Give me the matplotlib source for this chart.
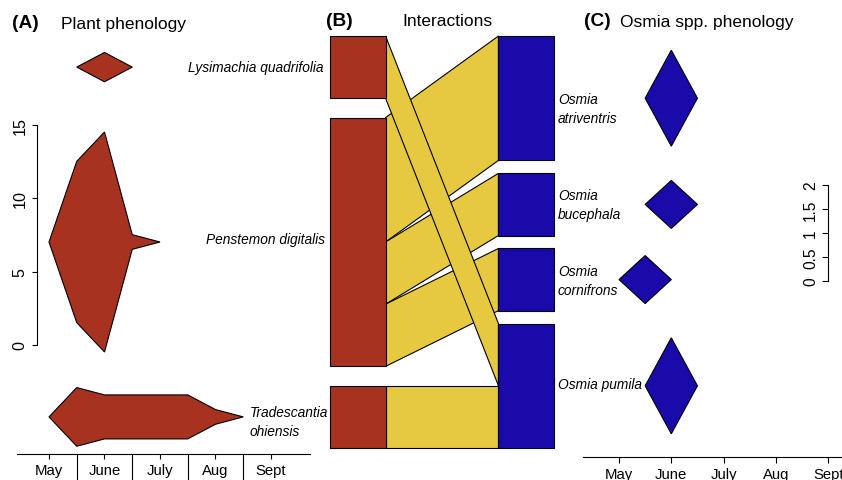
import matplotlib
matplotlib.use('Agg')
import matplotlib.pyplot as plt
from matplotlib import font_manager
from matplotlib.font_manager import FontProperties
from matplotlib.patches import Polygon, Rectangle
from matplotlib.transforms import blended_transform_factory

W, H = 842, 481

# ---- data ----
months = ['May', 'June', 'July', 'Aug', 'Sept']
plants = ['Lysimachia quadrifolia', 'Penstemon digitalis', 'Tradescantia\nohiensis']
bees = ['Osmia\natriventris', 'Osmia\nbucephala', 'Osmia\ncornifrons', 'Osmia pumila']

# interactions: rows = plants, cols = bees
links = [[0, 0, 0, 1],
         [2, 1, 1, 0],
         [0, 0, 0, 1]]

# phenology (1 = May, half month steps)
lys_time = [1.5, 2, 2.5]
lys_abund = [0, 2, 0]
pen_time = [1, 1.5, 2, 2.5, 3]
pen_abund = [0, 11, 15, 1, 0]
tra_time = [1, 1.5, 2, 2.5, 3, 3.5, 4, 4.5]
tra_abund = [0, 4, 3, 3, 3, 3, 1, 0]

atr_time = [1.5, 2, 2.5]
atr_abund = [0, 2, 0]
buc_time = [1.5, 2, 2.5]
buc_abund = [0, 1, 0]
cor_time = [1, 1.5, 2]
cor_abund = [0, 1, 0]
pum_time = [1.5, 2, 2.5]
pum_abund = [0, 2, 0]

plant_phen = [(lys_time, lys_abund), (pen_time, pen_abund), (tra_time, tra_abund)]
bee_phen = [(atr_time, atr_abund), (buc_time, buc_abund), (cor_time, cor_abund), (pum_time, pum_abund)]

RED = '#a83220'
YEL = '#e6c940'
BLUE = '#1a0aaa'


def pick_font(names):
    for n in names:
        try:
            font_manager.findfont(FontProperties(family=n), fallback_to_default=False)
            return n
        except ValueError:
            pass
    return 'DejaVu Sans'


FONT = pick_font(['Liberation Sans Narrow', 'Liberation Sans'])
k = 1.0 if 'Narrow' in FONT else 0.86
plt.rcParams['font.family'] = [FONT, 'DejaVu Sans']

fig = plt.figure(figsize=(W / 100, H / 100), dpi=100)


def px_axes(x0, y0, x1, y1):
    return fig.add_axes([x0 / W, 1 - y1 / H, (x1 - x0) / W, (y1 - y0) / H])


def ftext(x, y, s, **kw):
    fig.text(x / W, 1 - y / H, s, **kw)


# ---- (B) interactions ----
axB = px_axes(330, 37, 554, 449)
axB.axis('off')
box_w = 0.248
gap_total = 0.625
plant_tot = [sum(r) for r in links]
bee_tot = [sum(links[i][j] for i in range(len(plants))) for j in range(len(bees))]
total = sum(plant_tot)
axB.set_xlim(0, 1)
axB.set_ylim(total + gap_total, 0)

plant_top = []
y = 0
for v in plant_tot:
    plant_top.append(y)
    y += v + gap_total / (len(plants) - 1)
bee_top = []
y = 0
for v in bee_tot:
    bee_top.append(y)
    y += v + gap_total / (len(bees) - 1)

lcur = list(plant_top)
rcur = list(bee_top)
for i in range(len(plants)):
    for j in range(len(bees)):
        v = links[i][j]
        if v == 0:
            continue
        lt, rt = lcur[i], rcur[j]
        axB.add_patch(Polygon([(box_w, lt), (1 - box_w, rt), (1 - box_w, rt + v), (box_w, lt + v)],
                              closed=True, fc=YEL, ec='black', lw=0.8, clip_on=False,
                              zorder=1 + 0.1 * (len(plants) - i)))
        lcur[i] += v
        rcur[j] += v

for top, v in zip(plant_top, plant_tot):
    axB.add_patch(Rectangle((0, top), box_w, v, fc=RED, ec='black', lw=0.8, clip_on=False, zorder=3))
for top, v in zip(bee_top, bee_tot):
    axB.add_patch(Rectangle((1 - box_w, top), box_w, v, fc=BLUE, ec='black', lw=0.8, clip_on=False, zorder=3))

plant_mid = [t + v / 2 for t, v in zip(plant_top, plant_tot)]
bee_mid = [t + v / 2 for t, v in zip(bee_top, bee_tot)]


def to_axis(ax_to, yb):
    pix = axB.transData.transform((0, yb))
    return ax_to.transData.inverted().transform(pix)[1]


# ---- (A) plant phenology ----
axA = px_axes(17, 30, 310, 455)
m0, mstep = 49, 55.5
axA.set_xlim(1 + (17 - m0) / mstep, 1 + (310 - m0) / mstep)
ppu = 220 / 15
axA.set_ylim(-(455 - 346) / ppu, (346 - 30) / ppu)
for c, (t, a) in zip(plant_mid, plant_phen):
    cy = to_axis(axA, c)
    pts = [(x, cy + w / 2) for x, w in zip(t, a)] + [(x, cy - w / 2) for x, w in zip(t[::-1], a[::-1])]
    axA.add_patch(Polygon(pts, closed=True, fc=RED, ec='black', lw=0.8))

for s in ['top', 'right']:
    axA.spines[s].set_visible(False)
axA.spines['left'].set_position(('data', 1 + (37 - m0) / mstep))
axA.spines['left'].set_bounds(0, 15)
for s in ['left', 'bottom']:
    axA.spines[s].set_linewidth(0.8)
axA.set_yticks([0, 5, 10, 15])
axA.set_yticklabels(['0', '5', '10', '15'], rotation=90, va='center', fontsize=13.5 * k)
axA.set_xticks(range(1, 6))
axA.set_xticklabels(months, fontsize=12.5 * k)
axA.set_xticks([1.5, 2.5, 3.5, 4.5], minor=True)
axA.tick_params(axis='both', which='major', length=3.8, width=0.8, pad=3)
axA.tick_params(axis='x', which='minor', length=19, width=0.8)

# ---- (C) bee phenology ----
axC = px_axes(583, 30, 880, 458)
c0, cstep = 619, 52.3
axC.set_xlim(1 + (583 - c0) / cstep, 1 + (880 - c0) / cstep)
ppu_c = 48
axC.set_ylim(-(458 - 282) / ppu_c, (282 - 30) / ppu_c)
for c, (t, a) in zip(bee_mid, bee_phen):
    cy = to_axis(axC, c)
    pts = [(x, cy + w / 2) for x, w in zip(t, a)] + [(x, cy - w / 2) for x, w in zip(t[::-1], a[::-1])]
    axC.add_patch(Polygon(pts, closed=True, fc=BLUE, ec='black', lw=0.8))

for s in ['top', 'right']:
    axC.spines[s].set_visible(False)
axC.spines['left'].set_position(('data', 5.0))
axC.spines['left'].set_bounds(0, 2)
for s in ['left', 'bottom']:
    axC.spines[s].set_linewidth(0.8)
axC.set_yticks([0, 0.5, 1, 1.5, 2])
axC.set_yticklabels(['0', '0.5', '1', '1.5', '2'], rotation=90, va='center', fontsize=13 * k)
axC.set_xticks(range(1, 6))
axC.set_xticklabels(months, fontsize=12.5 * k)
axC.tick_params(axis='both', which='major', length=4.2, width=0.8, pad=3)

# ---- labels ----
trB = blended_transform_factory(fig.transFigure, axB.transData)
sp = dict(style='italic', fontsize=11.5 * k, va='center', transform=trB, linespacing=1.45)
fig.text(323 / W, plant_mid[0], plants[0], ha='right', **sp)
fig.text(325 / W, plant_mid[1] - 0.05, plants[1], ha='right', **sp)
fig.text(250 / W, plant_mid[2] + 0.08, plants[2], ha='left', **sp)
bee_dy = [0.17, 0, 0.02, -0.03]
for name, c, dy in zip(bees, bee_mid, bee_dy):
    fig.text(558 / W, c + dy, name, ha='left', **sp)

tt = dict(fontsize=14.5 * k, va='center')
ftext(12, 24, '(A)', weight='bold', fontsize=16 * k, va='center')
ftext(61, 24, 'Plant phenology', **tt)
ftext(326, 22, '(B)', weight='bold', fontsize=16 * k, va='center')
ftext(402, 22, 'Interactions', **tt)
ftext(584, 22, '(C)', weight='bold', fontsize=16 * k, va='center')
ftext(620, 22, 'Osmia spp. phenology', **tt)

fig.savefig('out.png', dpi=100)
